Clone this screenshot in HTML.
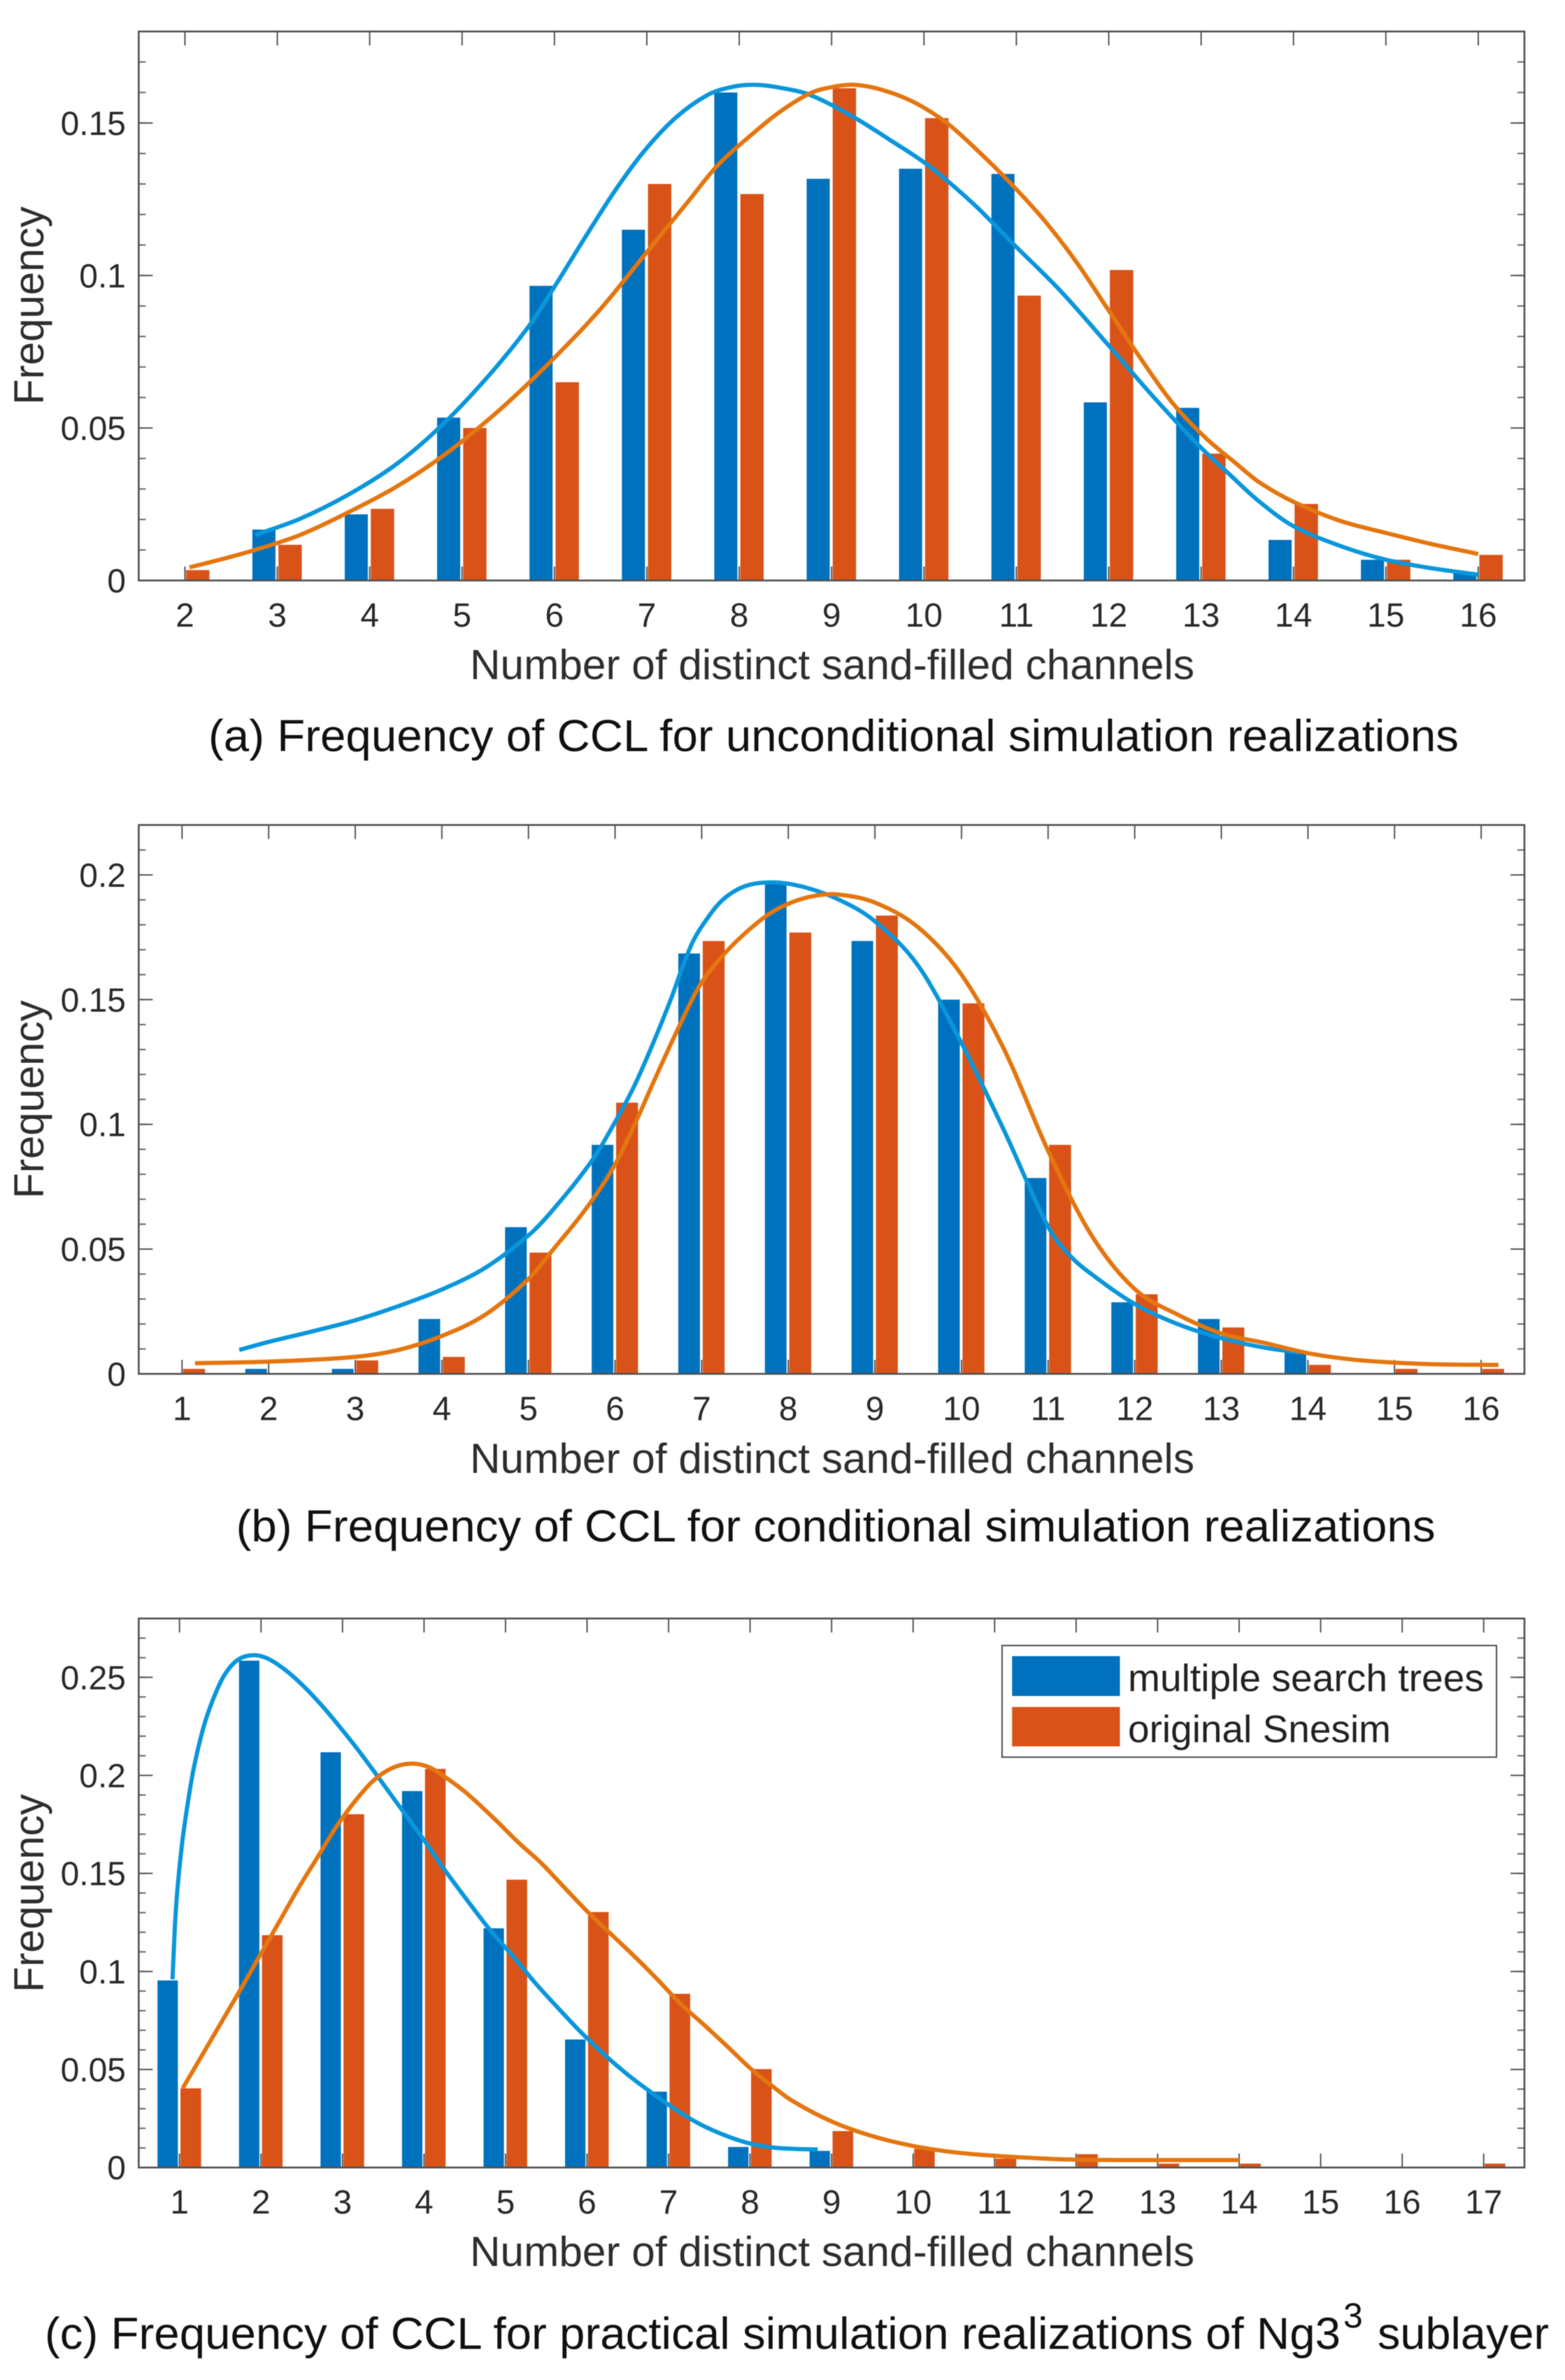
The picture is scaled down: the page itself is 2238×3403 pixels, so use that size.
<!DOCTYPE html>
<html lang="en">
<head>
<meta charset="utf-8">
<title>Frequency of CCL histograms</title>
<style>
html,body{margin:0;padding:0;background:#fff;}
svg{display:block;filter:blur(0.6px);}
text{font-family:"Liberation Sans",Arial,sans-serif;}
.tick-text{font-size:48px;fill:#2a2a2a;}
.axis-title{font-size:60px;fill:#2e2e2e;}
.caption{font-size:64px;fill:#111;}
.legend-text{font-size:55px;fill:#222;}
</style>
</head>
<body>
<svg id="figure" xmlns="http://www.w3.org/2000/svg" width="2238" height="3403" viewBox="0 0 2238 3403">
  <rect x="0" y="0" width="2238" height="3403" fill="#fff"/>

  <g id="chart-a"></g>
  <text class="axis-title" x="672" y="971" textLength="1036" lengthAdjust="spacingAndGlyphs">Number of distinct sand-filled channels</text>
  <text class="axis-title" transform="translate(62,437) rotate(-90)" text-anchor="middle">Frequency</text>
  <text class="caption" x="298" y="1074" textLength="1788" lengthAdjust="spacingAndGlyphs">(a) Frequency of CCL for unconditional simulation realizations</text>

  <g id="chart-b"></g>
  <text class="axis-title" x="672" y="2106" textLength="1036" lengthAdjust="spacingAndGlyphs">Number of distinct sand-filled channels</text>
  <text class="axis-title" transform="translate(62,1572) rotate(-90)" text-anchor="middle">Frequency</text>
  <text class="caption" x="337.6" y="2204" textLength="1715" lengthAdjust="spacingAndGlyphs">(b) Frequency of CCL for conditional simulation realizations</text>

  <g id="chart-c"></g>
  <text class="axis-title" x="672" y="3240" textLength="1036" lengthAdjust="spacingAndGlyphs">Number of distinct sand-filled channels</text>
  <text class="axis-title" transform="translate(62,2707) rotate(-90)" text-anchor="middle">Frequency</text>
  <text class="caption" x="64" y="3358.6" textLength="1853" lengthAdjust="spacingAndGlyphs">(c) Frequency of CCL for practical simulation realizations of Ng3</text>
  <text class="caption" x="1921" y="3328" style="font-size:50px">3</text>
  <text class="caption" x="1970" y="3358.6" textLength="245" lengthAdjust="spacingAndGlyphs">sublayer</text>

  <g id="legend">
    <rect x="1433" y="2352.8" width="707" height="159.6" fill="#fff" stroke="#4a4a4a" stroke-width="2"/>
    <rect x="1447.3" y="2368" width="154.2" height="57" fill="#0072BD"/>
    <text class="legend-text" x="1613" y="2418" textLength="509" lengthAdjust="spacingAndGlyphs">multiple search trees</text>
    <rect x="1447.3" y="2440.7" width="154.2" height="56.3" fill="#D95319"/>
    <text class="legend-text" x="1613" y="2491" textLength="376" lengthAdjust="spacingAndGlyphs">original Snesim</text>
  </g>
</svg>

<script>
// ---- Chart (a) data ----
const categoriesA = [2,3,4,5,6,7,8,9,10,11,12,13,14,15,16];
const blueFreqA = [0,.0167,.0217,.0534,.0966,.115,.16,.1317,.135,.1333,.0584,.0566,.0133,.0068,.0023];
const orangeFreqA = [.0034,.0117,.0235,.05,.065,.13,.1267,.1614,.1516,.0934,.1018,.0416,.0251,.0068,.0084];
const yTickValuesA = [0,.05,.1,.15];
const yTickLabelsA = ['0','0.05','0.1','0.15'];
const blueCurveXA = [2.76,3.244,3.766,4.287,4.809,5.33,5.747,6.025,6.338,6.651,6.964,7.311,7.659,7.937,8.174,8.452,8.765,9.217,9.634,10.05,10.538,10.955,11.476,11.998,12.484,12.97,13.318,13.624,14,14.5,15,15.5,16];
const blueCurveYA = [.0149,.0202,.0281,.0381,.0517,.0686,.0844,.0975,.1128,.1276,.1405,.1517,.1592,.1619,.1625,.1615,.1592,.1523,.1444,.136,.1234,.1107,.095,.0771,.0602,.0444,.0345,.026,.0178,.0114,.0068,.004,.0019];
const orangeCurveXA = [2.05,2.35,2.723,3.244,3.766,4.287,4.809,5.33,5.747,6.199,6.547,6.999,7.451,7.763,8.174,8.452,8.765,9.008,9.252,9.564,9.912,10.26,10.607,10.955,11.302,11.65,11.998,12.345,12.693,13.04,13.388,13.624,14,14.5,15,15.5,16];
const orangeCurveYA = [.0043,.0066,.0097,.0149,.0223,.0307,.0412,.0539,.0655,.0792,.0907,.1076,.1244,.136,.1472,.1539,.1597,.1618,.1625,.1607,.1565,.1497,.1402,.1297,.1181,.1044,.0886,.0728,.0581,.047,.0381,.0323,.0258,.0196,.0156,.0119,.0087];

// ---- Chart (b) data ----
const categoriesB = [1,2,3,4,5,6,7,8,9,10,11,12,13,14,15,16];
const blueFreqB = [0,.002,.002,.022,.0588,.0918,.1685,.1964,.1735,.15,.0785,.0287,.022,.0086,0,0];
const orangeFreqB = [.002,0,.0054,.0068,.0486,.1087,.1735,.1769,.1837,.1485,.0918,.0319,.0186,.0036,.002,.002];
const yTickValuesB = [0,.05,.1,.15,.2];
const yTickLabelsB = ['0','0.05','0.1','0.15','0.2'];
const blueCurveXB = [1.66,2,2.5,3,3.5,4,4.5,5,5.277,5.734,6.004,6.219,6.434,6.65,6.757,6.892,7.027,7.242,7.511,7.834,8.184,8.588,9,9.5,10,10.5,11,11.25,11.5,12,12.5,13,13.5,13.9];
const blueCurveYB = [.0096,.0128,.017,.0215,.0272,.0338,.0425,.0555,.0655,.0855,.1012,.1152,.1321,.1507,.161,.1728,.1807,.19,.1956,.197,.1951,.19,.1814,.1636,.1326,.0969,.059,.0475,.04,.028,.0199,.0143,.0105,.0086];
const orangeCurveXB = [1.15,2,3,3.5,4,4.5,5,5.3,5.654,5.977,6.219,6.434,6.704,6.973,7.242,7.511,7.78,8.049,8.319,8.588,9,9.5,10,10.5,11,11.5,12,12.5,13,13.5,14,14.5,15,15.5,16.2];
const orangeCurveYB = [.0043,.0049,.0068,.0096,.0152,.0237,.038,.0505,.0657,.0825,.0994,.1162,.1367,.1554,.1676,.1769,.1844,.1891,.1917,.1921,.1889,.179,.16,.1295,.0894,.0556,.034,.0237,.0162,.0124,.0083,.0058,.0045,.0038,.0036];

// ---- Chart (c) data ----
const categoriesC = [1,2,3,4,5,6,7,8,9,10,11,12,13,14,15,16,17];
const blueFreqC = [.0954,.2585,.2118,.192,.122,.0653,.0387,.0105,.0085,0,0,0,0,0,0,0,0];
const orangeFreqC = [.0404,.1185,.1802,.2033,.1468,.1303,.0886,.0502,.0186,.0095,.0045,.0068,.002,.002,0,0,.002];
const yTickValuesC = [0,.05,.1,.15,.2,.25];
const yTickLabelsC = ['0','0.05','0.1','0.15','0.2','0.25'];
const blueCurveXC = [.914,.943,.971,1.028,1.086,1.172,1.286,1.4,1.543,1.715,1.915,2.086,2.287,2.515,2.744,2.973,3.2,3.431,3.66,3.974,4.231,4.517,4.803,5.089,5.375,5.661,5.947,6.233,6.519,6.805,7.091,7.377,7.663,7.949,8.235,8.55,8.83];
const blueCurveYC = [.096,.1222,.14,.1638,.1816,.203,.2232,.2375,.2506,.2589,.2613,.2595,.2541,.2458,.2357,.2244,.2125,.1995,.1864,.1685,.1531,.137,.1215,.1079,.0936,.0806,.0681,.0568,.0467,.0378,.0294,.0223,.0169,.0128,.0104,.0095,.0092];
const orangeCurveXC = [1.04,1.4,1.772,2,2.229,2.458,2.687,2.916,3.145,3.373,3.602,3.831,4.06,4.288,4.517,4.86,5.146,5.432,5.718,6.004,6.29,6.576,6.862,7.148,7.434,7.72,8.006,8.235,8.5,9,9.5,10,10.5,11,11.5,12,13,14];
const orangeCurveYC = [.0404,.066,.0925,.1091,.1257,.1424,.1578,.1733,.1864,.1971,.2036,.206,.2042,.1983,.1911,.178,.1662,.1555,.143,.1305,.1192,.1079,.096,.0835,.0728,.0618,.0505,.0428,.0345,.0235,.016,.011,.0078,.006,.0048,.004,.0038,.0038];

const SVG_NS = 'http://www.w3.org/2000/svg';

function mk(parent, tag, attrs) {
  const el = document.createElementNS(SVG_NS, tag);
  for (const k in attrs) el.setAttribute(k, attrs[k]);
  parent.appendChild(el);
  return el;
}

function smoothPath(pts) {
  let d = 'M' + pts[0][0].toFixed(1) + ' ' + pts[0][1].toFixed(1);
  for (let i = 0; i < pts.length - 1; i++) {
    const p0 = pts[Math.max(0, i - 1)], p1 = pts[i], p2 = pts[i + 1], p3 = pts[Math.min(pts.length - 1, i + 2)];
    const seg = p2[0] - p1[0];
    const s1 = (p2[1] - p0[1]) / Math.max(p2[0] - p0[0], 1e-6);
    const s2 = (p3[1] - p1[1]) / Math.max(p3[0] - p1[0], 1e-6);
    d += ' C' + (p1[0] + seg / 3).toFixed(1) + ' ' + (p1[1] + s1 * seg / 3).toFixed(1) +
         ' ' + (p2[0] - seg / 3).toFixed(1) + ' ' + (p2[1] - s2 * seg / 3).toFixed(1) +
         ' ' + p2[0].toFixed(1) + ' ' + p2[1].toFixed(1);
  }
  return d;
}

function drawChart(cfg) {
  const g = document.getElementById(cfg.id);
  const L = 198.4, R = 2180, T = cfg.top, B = cfg.bottom;
  const xScale = v => L + (v - cfg.xMin) / (cfg.xMax - cfg.xMin) * (R - L);
  const yScale = v => B - (v - 0) / cfg.yMax * (B - T);

  // bars
  cfg.categories.forEach((c, i) => {
    if (cfg.blue[i] > 0) {
      const a = xScale(c - 0.27), b = xScale(c - 0.02);
      const bar = mk(g, 'rect', {x: a, y: yScale(cfg.blue[i]), width: b - a, height: B - yScale(cfg.blue[i]), fill: '#0072BD'});
      
      
    }
    if (cfg.orange[i] > 0) {
      const a = xScale(c + 0.012), b = xScale(c + 0.265);
      const bar = mk(g, 'rect', {x: a, y: yScale(cfg.orange[i]), width: b - a, height: B - yScale(cfg.orange[i]), fill: '#D95319'});
      
      
    }
  });

  // x ticks and labels
  cfg.categories.forEach(c => {
    const x = xScale(c);
    const t1 = mk(g, 'line', {x1: x, x2: x, y1: B, y2: B - 20, stroke: '#555', 'stroke-width': 2});
    
    
    const t2 = mk(g, 'line', {x1: x, x2: x, y1: T, y2: T + 20, stroke: '#555', 'stroke-width': 2});
    
    
    const lab = mk(g, 'text', {x: x, y: B + 66, 'text-anchor': 'middle', class: 'tick-text'});
    lab.textContent = String(c);
    
    
  });

  // y minor ticks
  const nMinor = Math.round(cfg.yMax / 0.01);
  for (let k = 1; k < nMinor; k++) {
    const y = yScale(k * 0.01);
    const m1 = mk(g, 'line', {x1: L, x2: L + 10, y1: y, y2: y, stroke: '#666', 'stroke-width': 2});
    
    
    const m2 = mk(g, 'line', {x1: R, x2: R - 10, y1: y, y2: y, stroke: '#666', 'stroke-width': 2});
    
    
  }

  // y major ticks and labels
  cfg.yTicks.forEach((v, i) => {
    const y = yScale(v);
    const t1 = mk(g, 'line', {x1: L, x2: L + 20, y1: y, y2: y, stroke: '#555', 'stroke-width': 2});
    
    
    const t2 = mk(g, 'line', {x1: R, x2: R - 20, y1: y, y2: y, stroke: '#555', 'stroke-width': 2});
    
    
    const lab = mk(g, 'text', {x: 180, y: y + 17, 'text-anchor': 'end', class: 'tick-text'});
    lab.textContent = cfg.yLabels[i];
    
    
  });

  // frame
  const frame = mk(g, 'rect', {x: L, y: T, width: R - L, height: B - T, fill: 'none', stroke: '#505050', 'stroke-width': 2.6});
  
  

  // fitted curves
  const blueCurve = mk(g, 'path', {d: smoothPath(cfg.blueCurveX.map((x, i) => [xScale(x), yScale(cfg.blueCurveY[i])])), fill: 'none', stroke: '#0A96DB', 'stroke-width': 6});
  
  
  const orangeCurve = mk(g, 'path', {d: smoothPath(cfg.orangeCurveX.map((x, i) => [xScale(x), yScale(cfg.orangeCurveY[i])])), fill: 'none', stroke: '#E4760F', 'stroke-width': 6});
  
  
}

drawChart({id: 'chart-a', top: 45, bottom: 830, xMin: 1.5, xMax: 16.5, yMax: .18,
  categories: categoriesA, blue: blueFreqA, orange: orangeFreqA, yTicks: yTickValuesA, yLabels: yTickLabelsA,
  blueCurveX: blueCurveXA, blueCurveY: blueCurveYA, orangeCurveX: orangeCurveXA, orangeCurveY: orangeCurveYA});
drawChart({id: 'chart-b', top: 1179.6, bottom: 1964.4, xMin: .5, xMax: 16.5, yMax: .22,
  categories: categoriesB, blue: blueFreqB, orange: orangeFreqB, yTicks: yTickValuesB, yLabels: yTickLabelsB,
  blueCurveX: blueCurveXB, blueCurveY: blueCurveYB, orangeCurveX: orangeCurveXB, orangeCurveY: orangeCurveYB});
drawChart({id: 'chart-c', top: 2314.2, bottom: 3099.2, xMin: .5, xMax: 17.5, yMax: .28,
  categories: categoriesC, blue: blueFreqC, orange: orangeFreqC, yTicks: yTickValuesC, yLabels: yTickLabelsC,
  blueCurveX: blueCurveXC, blueCurveY: blueCurveYC, orangeCurveX: orangeCurveXC, orangeCurveY: orangeCurveYC});
</script>
</body>
</html>
